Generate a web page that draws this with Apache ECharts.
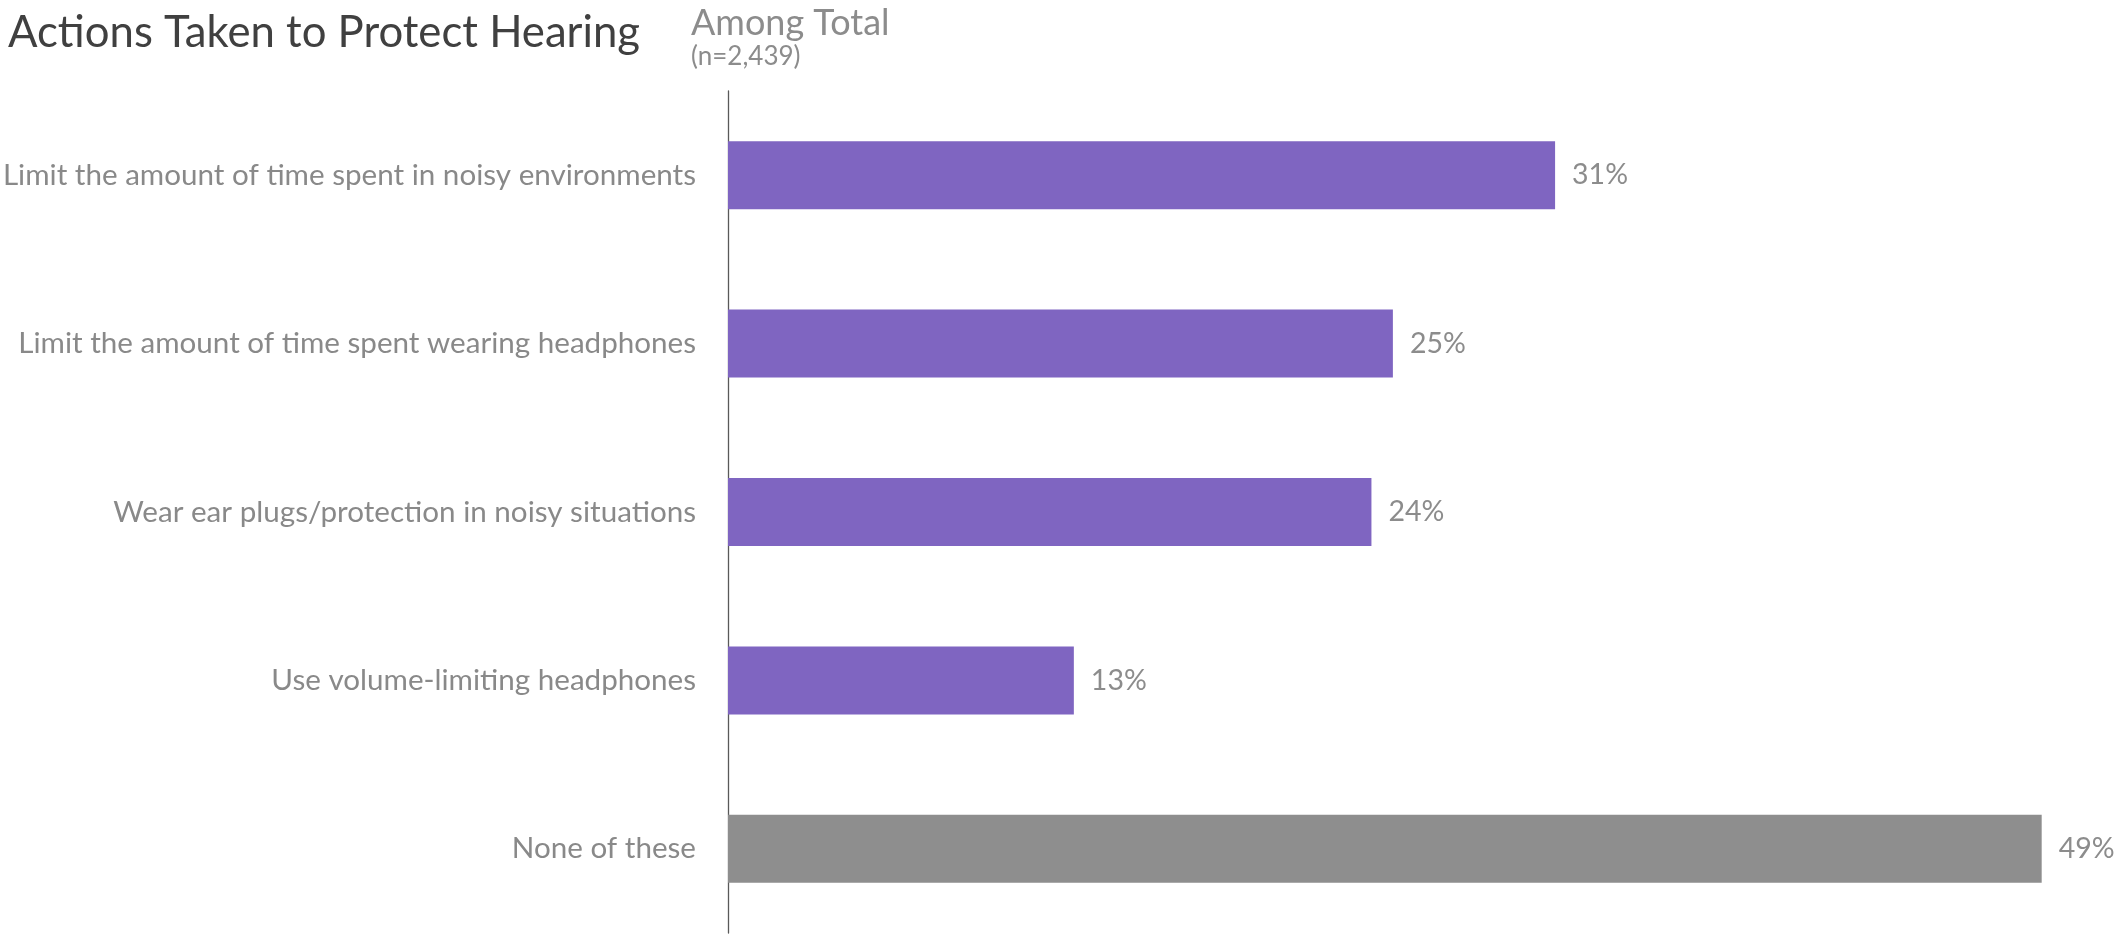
<!DOCTYPE html>
<html>
<head>
<meta charset="utf-8">
<title>Actions Taken to Protect Hearing</title>
<script src="https://cdn.jsdelivr.net/npm/echarts@6/dist/echarts.min.js"></script>
<style>
  html, body { margin: 0; padding: 0; background: #fff; }
  #chart { width: 2119px; height: 937px; }
</style>
</head>
<body>
<div id="chart"></div>
<script>
  // categories, top to bottom
  var actions = [
    'Limit the amount of time spent in noisy environments',
    'Limit the amount of time spent wearing headphones',
    'Wear ear plugs/protection in noisy situations',
    'Use volume-limiting headphones',
    'None of these'
  ];
  // share of total (%)
  var shares = [30.85, 24.8, 24.0, 12.9, 49.0];

  var chart = echarts.init(document.getElementById('chart'));

  var option = {
    animation: false,
    textStyle: { fontFamily: 'Lato' },
    title: [
      {
        text: 'Actions Taken to Protect Hearing',
        left: 3,
        top: 6,
        textStyle: { fontFamily: 'Lato', fontSize: 43.7, fontWeight: 'normal', color: '#404040' }
      },
      {
        text: 'Among Total',
        subtext: '(n=2,439)',
        left: 686,
        top: 0,
        itemGap: 3,
        textStyle: { fontFamily: 'Lato', fontSize: 36, fontWeight: 'normal', color: '#8c8c8c' },
        subtextStyle: { fontFamily: 'Lato', fontSize: 26, color: '#8c8c8c' }
      }
    ],
    grid: {
      left: 728,
      right: 50.5,
      top: 91,
      bottom: 4,
      outerBoundsMode: 'none',
      containLabel: false
    },
    xAxis: {
      type: 'value',
      min: 0,
      max: 50,
      show: false
    },
    yAxis: {
      type: 'category',
      inverse: true,
      data: actions,
      axisLine: { show: true, lineStyle: { color: '#595959', width: 1.3 } },
      axisTick: { show: false },
      axisLabel: {
        margin: 32,
        fontFamily: 'Lato',
        fontSize: 29.6,
        color: '#898989'
      }
    },
    series: [{
      type: 'bar',
      data: shares,
      barWidth: 68,
      itemStyle: {
        color: function (p) {
          return p.dataIndex === actions.length - 1 ? '#8e8e8e' : '#7f65c1';
        }
      },
      label: {
        show: true,
        position: 'right',
        distance: 17,
        fontFamily: 'Lato',
        fontSize: 28.5,
        color: '#8c8c8c',
        formatter: function (p) { return Math.round(p.value) + '%'; }
      }
    }]
  };

  chart.setOption(option);
</script>
</body>
</html>
